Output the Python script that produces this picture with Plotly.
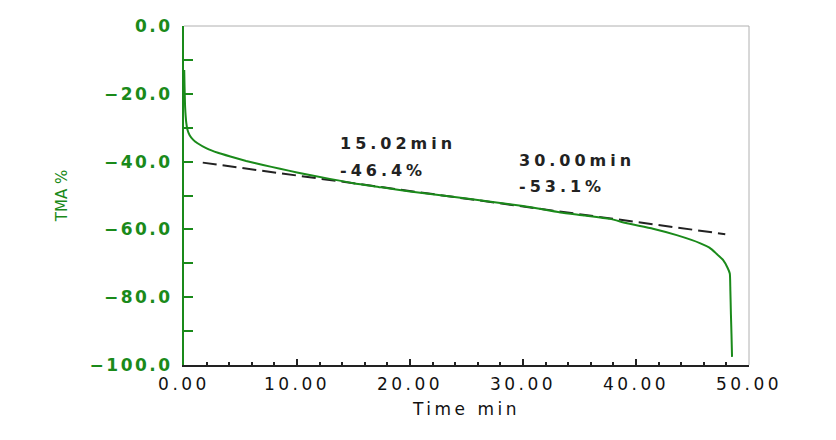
import plotly.graph_objects as go

# TMA curve (time in min, TMA in %)
time_min = [0.02, 0.05, 0.1, 0.2, 0.3, 0.5, 0.82, 1.2, 2.0, 3.0, 4.1, 5.5, 7.0, 8.5, 10,
            12.9, 15, 17.5, 20, 25, 30, 33.3, 35.5, 37.7, 39.2, 41.5, 43.6, 45.7, 46.5,
            47.1, 47.7, 48.1, 48.3, 48.35, 48.4, 48.45, 48.5]
tma_pct = [-13, -18, -24, -28.5, -30.5, -32.2, -33.6, -34.6, -36.1, -37.4, -38.5, -39.8,
           -41.0, -42.1, -43.2, -45.1, -46.4, -47.6, -48.8, -50.9, -53.1, -55.0, -55.9,
           -56.9, -58.2, -59.8, -61.7, -64.1, -65.4, -67.1, -69.0, -71.3, -73.0,
           -78.0, -85.0, -91.0, -97.6]

# fitted tangent line
fit_time = [1.66, 47.9]
fit_tma = [-40.3, -61.4]

# annotations (one entry per text line)
ann_x = [13.6, 13.6, 29.5, 29.5]
ann_y = [-34.8, -42.6, -39.6, -47.4]
ann_text = ["15.02min", "-46.4%", "30.00min", "-53.1%"]

x_tickvals = [0, 10, 20, 30, 40, 50]
x_ticktext = ["0.00", "10.00", "20.00", "30.00", "40.00", "50.00"]
y_tickvals = [0, -20, -40, -60, -80, -100]
y_ticktext = ["0.0", "\u221220.0", "\u221240.0", "\u221260.0", "\u221280.0", "\u2212100.0"]

GREEN = "#1a8a1a"


def sp(t, px):
    return "<span style='letter-spacing:%spx'>%s</span>" % (px, t)


fig = go.Figure()
fig.add_trace(go.Scatter(x=fit_time, y=fit_tma, mode="lines",
                         line=dict(color="#222222", width=2, dash="14px,6px"),
                         hoverinfo="skip", showlegend=False))
fig.add_trace(go.Scatter(x=time_min, y=tma_pct, mode="lines",
                         line=dict(color=GREEN, width=2, shape="spline", smoothing=0.5),
                         showlegend=False))

for x, y, t in zip(ann_x, ann_y, ann_text):
    fig.add_annotation(x=x, y=y, xref="x", yref="y", xanchor="left", yanchor="middle",
                       text=sp(t, 4), showarrow=False, align="left",
                       font=dict(family="DejaVu Sans", size=16, color="#222222", weight="bold"))

fig.add_shape(type="line", xref="paper", yref="paper", x0=0, x1=1, y0=1, y1=1,
              line=dict(color="#b0b0b0", width=1))
fig.add_shape(type="line", xref="paper", yref="paper", x0=1, x1=1, y0=0, y1=1,
              line=dict(color="#b0b0b0", width=1))

fig.update_layout(
    width=836, height=440,
    margin=dict(l=184, r=87, t=26, b=75),
    paper_bgcolor="white", plot_bgcolor="white",
    font=dict(family="DejaVu Sans"),
    xaxis=dict(range=[0, 50], showgrid=False, zeroline=False,
               showline=True, linecolor="#222222", linewidth=2,
               tickmode="array", tickvals=x_tickvals,
               ticktext=[sp(t, 3.5) for t in x_ticktext],
               ticks="inside", ticklen=6, tickwidth=2, tickcolor="#222222",
               ticklabelstandoff=3,
               minor=dict(dtick=2, ticks="inside", ticklen=3, tickwidth=2, tickcolor="#222222"),
               tickfont=dict(size=17, color="#111111", family="DejaVu Sans"),
               title=dict(text=sp("Time min", 3.5), standoff=10,
                          font=dict(size=17, color="#111111", family="DejaVu Sans"))),
    yaxis=dict(range=[-100, 0], showgrid=False, zeroline=False,
               showline=True, linecolor=GREEN, linewidth=2,
               tickmode="array", tickvals=y_tickvals,
               ticktext=[sp(t, 2.5) for t in y_ticktext],
               ticks="inside", ticklen=9, tickwidth=2, tickcolor=GREEN,
               ticklabelstandoff=6,
               minor=dict(dtick=10, ticks="inside", ticklen=9, tickwidth=2, tickcolor=GREEN),
               tickfont=dict(size=17, color=GREEN, family="DejaVu Sans", weight="bold"),
               title=dict(text="TMA %", standoff=18,
                          font=dict(size=15, color=GREEN, family="DejaVu Sans"))),
)

fig.write_html("out.html")
